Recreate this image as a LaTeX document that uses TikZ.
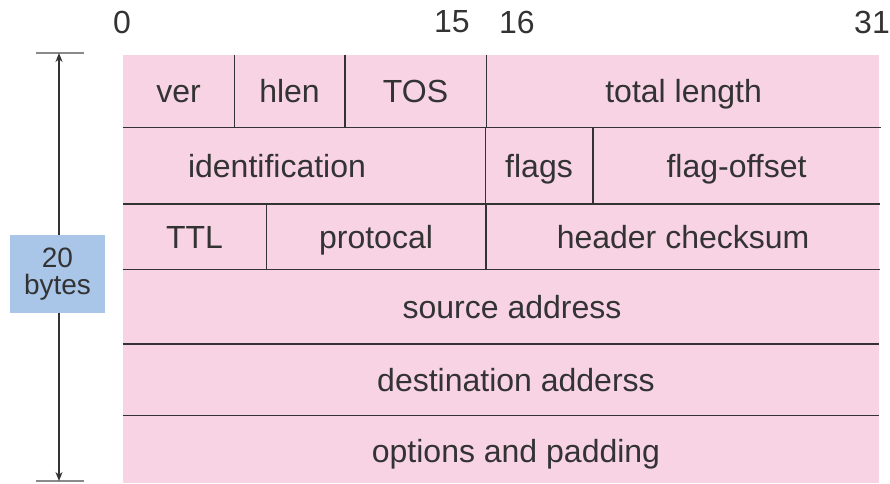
\documentclass[tikz,border=0pt]{standalone}
\usepackage{fontspec}
\setmainfont{Liberation Sans}
\usepackage{xcolor}
\usetikzlibrary{arrows.meta, positioning}
\newlength{\pxu}\setlength{\pxu}{0.75pt}
\definecolor{hdrpink}{HTML}{F8D3E4}
\definecolor{sizeblue}{HTML}{A9C6E8}
\definecolor{inkgray}{HTML}{333333}
\definecolor{tickgray}{HTML}{8A8A8A}
\tikzset{
  cell/.style   ={rectangle, inner sep=0pt, text=inkgray,
                  text height=19.5pt, text depth=2.25pt,
                  font=\fontsize{24}{28}\selectfont},
  sep/.style    ={line width=1.5\pxu, draw=inkgray},
  bitnum/.style ={inner sep=0pt, text=inkgray, font=\fontsize{24}{28}\selectfont},
  tick/.style   ={line width=1.2\pxu, draw=tickgray},
  span/.style   ={{Stealth[length=6.75pt,width=5.25pt]}-{Stealth[length=6.75pt,width=5.25pt]},
                  line width=1.6\pxu, draw=inkgray},
  sizebox/.style={rectangle, fill=sizeblue, inner sep=0pt, align=center,
                  minimum width=95\pxu, minimum height=78\pxu, text=inkgray,
                  font=\fontsize{21}{20}\selectfont},
}

\begin{document}
\begin{tikzpicture}[x=0.75pt, y=-0.75pt]

  \useasboundingbox (0,0) rectangle (890,483);

  % ── Header background ──────────────────────────────────────────────
  \fill[hdrpink] (123,55) rectangle (879,483);

  % ── Bit numbers ────────────────────────────────────────────────────
  \node[bitnum] (b0)  at (122,22) {0};
  \node[bitnum] (b15) at (452,22) {15};
  \node[bitnum] (b16) at (517,22) {16};
  \node[bitnum] (b31) at (872,22) {31};

  % ── Row 1 ──────────────────────────────────────────────────────────
  \node[cell, minimum width=111\pxu, minimum height=72\pxu] (ver) at (178.5,91) {ver};
  \node[cell, right=0pt of ver, minimum width=110\pxu, minimum height=72\pxu] (hlen) {hlen};
  \node[cell, right=0pt of hlen, minimum width=141\pxu, minimum height=72\pxu] (tos) {TOS};
  \node[cell, right=0pt of tos, minimum width=394\pxu, minimum height=72\pxu] (totlen) {total length};

  % ── Row 2 ──────────────────────────────────────────────────────────
  \node[cell, anchor=north west, minimum width=362\pxu, minimum height=76\pxu]
        (ident) at (ver.south west) {\hspace*{-54\pxu}identification};
  \node[cell, right=0pt of ident, minimum width=107\pxu, minimum height=76\pxu] (flags) {flags};
  \node[cell, right=0pt of flags, minimum width=287\pxu, minimum height=76\pxu] (fragoff) {flag-offset};

  % ── Row 3 ──────────────────────────────────────────────────────────
  \node[cell, anchor=north west, minimum width=143\pxu, minimum height=65\pxu]
        (ttl) at (ident.south west) {TTL};
  \node[cell, right=0pt of ttl, minimum width=219\pxu, minimum height=65\pxu] (proto) {protocal};
  \node[cell, right=0pt of proto, minimum width=394\pxu, minimum height=65\pxu] (hcsum) {header checksum};

  % ── Rows 4-6 ───────────────────────────────────────────────────────
  \node[cell, anchor=north west, minimum width=756\pxu, minimum height=74\pxu]
        (src) at (ttl.south west) {\hspace*{22\pxu}source address};
  \node[cell, below=0pt of src, minimum width=756\pxu, minimum height=71\pxu] (dst)
        {\hspace*{30\pxu}destination adderss};
  \node[cell, below=0pt of dst, minimum width=756\pxu, minimum height=70\pxu] (opts)
        {\hspace*{30\pxu}options and padding};

  % ── Separators ─────────────────────────────────────────────────────
  \draw[sep] (ver.north east)  -- (ver.south east);
  \draw[sep] (hlen.north east) -- (hlen.south east);
  \draw[sep] (tos.north east)  -- (tos.south east);
  \draw[sep] (ident.north east) -- (ident.south east);
  \draw[sep] (flags.north east) -- (flags.south east);
  \draw[sep] (ttl.north east)   -- (ttl.south east);
  \draw[sep] (proto.north east) -- (proto.south east);

  \draw[sep] (ver.south west)   -- (totlen.south east);
  \draw[sep] (ident.south west) -- (fragoff.south east);
  \draw[sep] (ttl.south west)   -- (hcsum.south east);
  \draw[sep] (src.south west)   -- (src.south east);
  \draw[sep] (dst.south west)   -- (dst.south east);

  % ── Size marker ────────────────────────────────────────────────────
  \coordinate (topL) at (36,53);  \coordinate (topR) at (84,53);
  \coordinate (botL) at (36,481); \coordinate (botR) at (84,481);
  \coordinate (spanT) at (59,53); \coordinate (spanB) at (59,481);
  \draw[tick] (topL) -- (topR);
  \draw[tick] (botL) -- (botR);
  \draw[span] (spanT) -- (spanB);
  \node[sizebox] (size) at (57.5,274) {20\\bytes};

\end{tikzpicture}
\end{document}
